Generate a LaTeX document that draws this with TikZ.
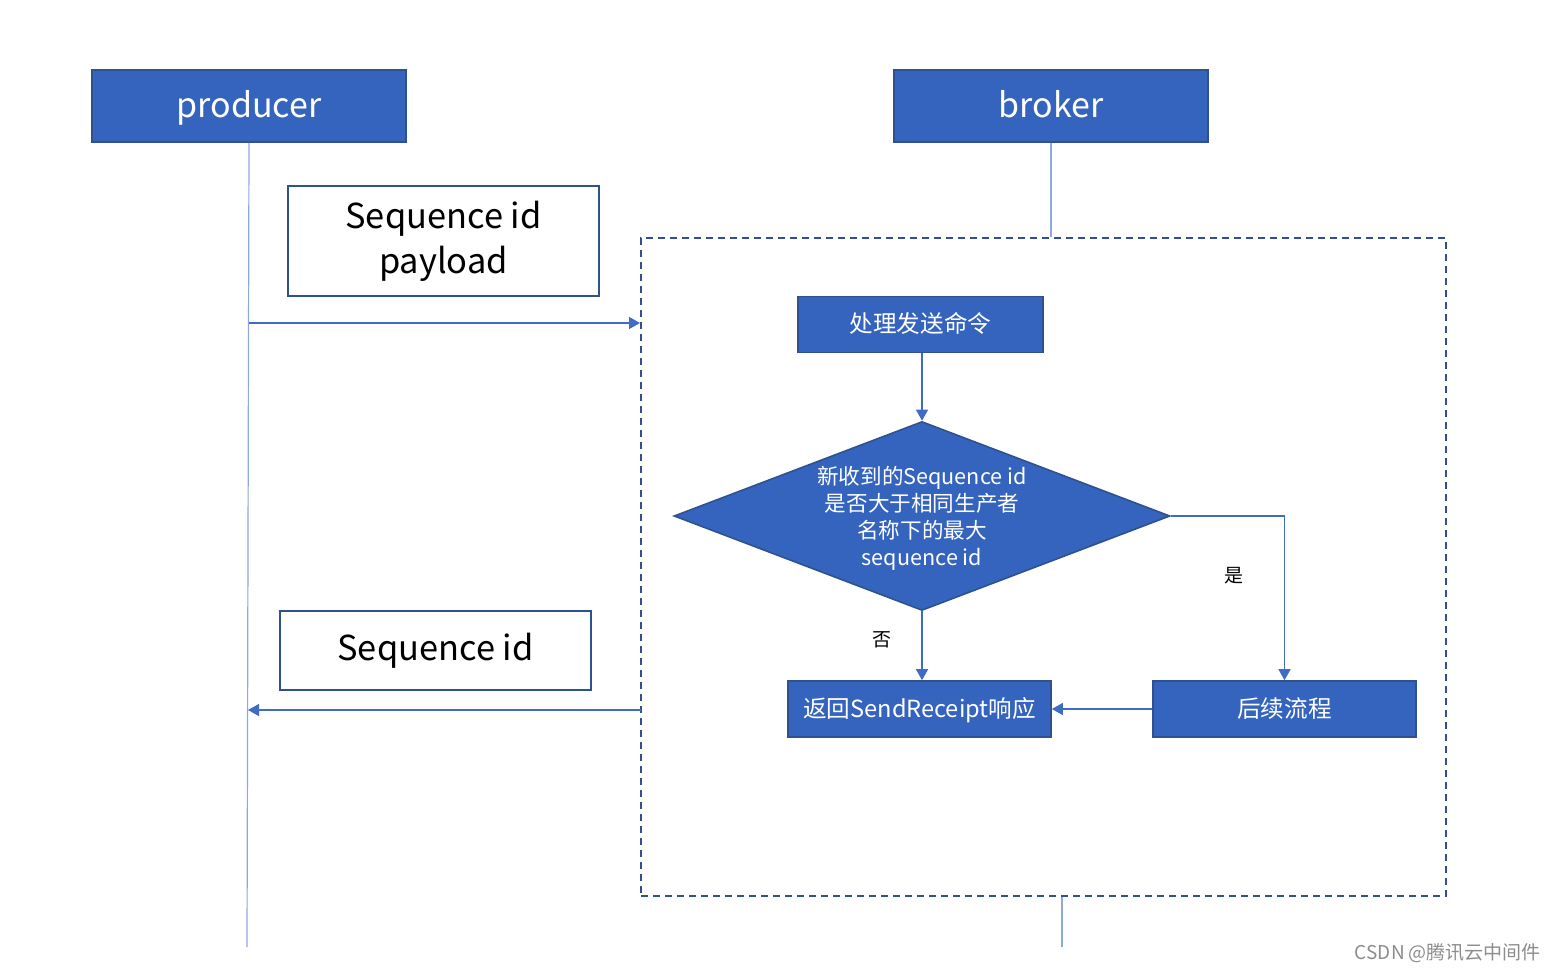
\documentclass[tikz,border=0pt]{standalone}
\usepackage{fontspec}
\setmainfont{Noto Sans CJK SC}
\usetikzlibrary{arrows.meta,shapes.geometric}
\definecolor{boxblue}{HTML}{3564BF}
\definecolor{edgeblue}{HTML}{2F528F}
\definecolor{lineblue}{HTML}{3F6CC4}
\definecolor{lifeblue}{HTML}{8EA9DB}

\begin{document}
\begin{tikzpicture}[x=0.5pt,y=-0.5pt,
	actor/.style={draw=edgeblue,line width=1pt,fill=boxblue,text=white,minimum width=157pt,minimum height=36pt,inner sep=0pt,text height=14pt,text depth=2pt,font=\fontsize{17}{20}\selectfont},
	msgbox/.style={draw=edgeblue,line width=1.2pt,fill=white,minimum width=155.5pt,align=center,inner sep=0pt,font=\fontsize{17.2}{22.5}\selectfont},
	stepbox/.style={draw=edgeblue,line width=0.8pt,fill=boxblue,text=white,minimum height=28pt,inner sep=0pt,text height=10pt,text depth=2pt,font=\fontsize{11.8}{14}\selectfont},
	decision/.style={diamond,draw=edgeblue,line width=0.8pt,fill=boxblue,minimum width=248pt,minimum height=94.5pt,inner sep=0pt},
	msg/.style={draw=lineblue,line width=0.7pt,-{Triangle[length=5.5pt,width=6pt]}},
	life/.style={draw=lifeblue,line width=0.6pt}]
	\useasboundingbox (0,0) rectangle (1562,972);
	% the two parties
	\node[actor] (producer) at (249,106) {producer};
	\node[actor] (broker) at (1051,106) {broker};
	% broker side
	\node[draw=edgeblue,line width=1pt,dash pattern=on 3.5pt off 2.5pt,minimum width=402.5pt,minimum height=329pt,inner sep=0pt] (brk) at (1043.5,567) {};
	\node[stepbox,minimum width=122.5pt] (handle) at (920.5,324.5) {处理发送命令};
	\node[decision] (check) at (922,516) {};
	\node[text=white,align=center,font=\fontsize{10.8}{13.5}\selectfont] (checktext) at (922,518) {新收到的Sequence id\\是否大于相同生产者\\名称下的最大\\sequence id};
	\node[stepbox,minimum width=131.5pt] (reply) at (919.5,709) {返回SendReceipt响应};
	\node[stepbox,minimum width=131.5pt] (next) at (1284.5,709) {后续流程};
	% messages
	\node[msgbox,minimum height=55pt] (sendmsg) at (443.5,241) {Sequence id\\payload};
	\node[msgbox,minimum height=39.5pt] (ackmsg) at (435.5,650.5) {Sequence id};
	% lifelines
	\coordinate (pend) at (247,947);
	\coordinate (bend) at (1062,947);
	\draw[life] (producer.south) -- (pend);
	\draw[life] (broker.south) -- (broker.south |- brk.north);
	\draw[life] (bend |- brk.south) -- (bend);
	\coordinate (req) at (249,323);
	\coordinate (ack) at (641,710);
	\draw[msg] (req) -- (brk.west |- req);
	\draw[msg] (ack) -- (248,710);
	% flow inside broker
	\draw[msg] (check.north |- handle.south) -- (check.north);
	\draw[msg] (check.south) -- (check.south |- reply.north);
	\draw[msg] (check.east) -| (next.north);
	\draw[msg] (next.west) -- (reply.east);
	\node[font=\fontsize{9.5}{11}\selectfont] (nolbl) at (882,640) {否};
	\node[font=\fontsize{9.5}{11}\selectfont] (yeslbl) at (1234,576) {是};
	\node[text=black!45,anchor=east,font=\fontsize{9.5}{11}\selectfont] (mark) at (1548,953) {CSDN @腾讯云中间件};
\end{tikzpicture}
\end{document}
